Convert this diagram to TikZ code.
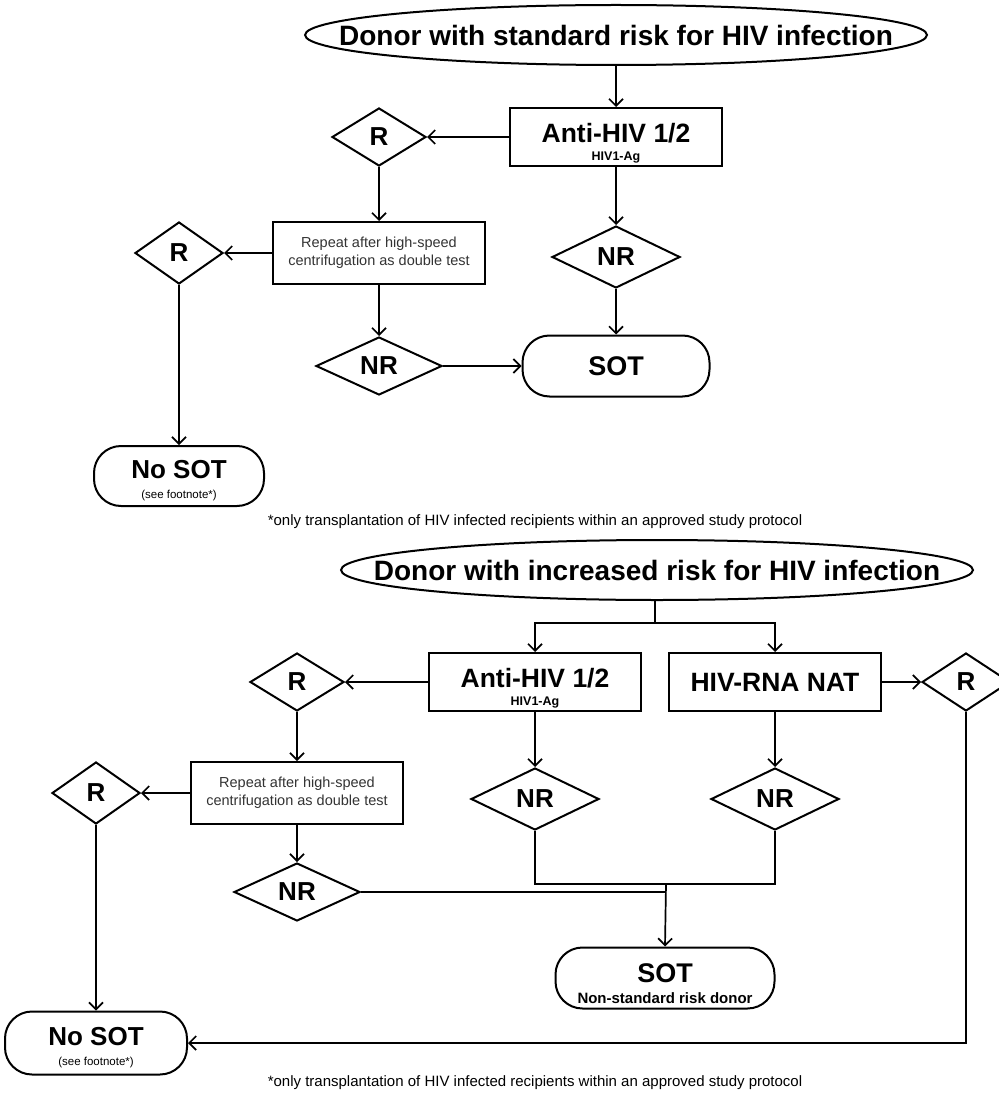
\documentclass[tikz,border=0pt]{standalone}
\usepackage{fontspec}
\setmainfont{Liberation Sans}
\usetikzlibrary{shapes.geometric,arrows.meta}

% invisible strut that lowers a stacked label inside its box
\newcommand\lowerby[1]{\rule{0pt}{#1}}

\begin{document}
\begin{tikzpicture}[x=1pt,y=-1pt,
  every node/.style={inner sep=0pt, align=center},
  link/.style={line width=1.7pt},
  flow/.style={link, -{Straight Barb[length=7pt,width=14pt,line width=1.7pt]}},
  ovaltext/.style={rectangle, minimum height=60pt, font=\fontsize{28}{30}\selectfont\bfseries},
  ovalline/.style={line width=2pt},
  testbox/.style={draw, rectangle, line width=2pt, minimum width=212pt, minimum height=58pt},
  repbox/.style={draw, rectangle, line width=2pt, minimum width=212pt, minimum height=62pt,
    font=\fontsize{14.5}{18}\selectfont, text=black!80},
  rdec/.style={draw, diamond, line width=2pt, minimum width=94pt, minimum height=58pt,
    font=\fontsize{26}{26}\selectfont\bfseries},
  nrdec/.style={draw, diamond, line width=2pt, minimum width=128pt, minimum height=62pt,
    font=\fontsize{26}{26}\selectfont\bfseries},
  term/.style={draw, rectangle, rounded corners=27pt, line width=2pt, minimum height=61pt},
  big/.style={font=\fontsize{26.5}{28}\selectfont\bfseries},
  note/.style={font=\fontsize{15}{17}\selectfont}
]
\useasboundingbox (0,0) rectangle (998,1099);

% ---------- standard risk donor ----------
\node[ovaltext] (top1) at (616,35) {Donor with standard risk for HIV infection};
\draw[ovalline] (top1.center) ellipse [x radius=311pt, y radius=30pt];
\node[testbox] (anti1) at (616,137)
  {{\fontsize{26.5}{26}\selectfont\bfseries\lowerby{32pt}Anti-HIV 1/2}\\[6pt]{\fontsize{12.5}{12}\selectfont\bfseries HIV1-Ag}};
\node[rdec] (r1) at (379,137) {R};
\node[repbox] (rep1) at (379,253) {Repeat after high-speed\\centrifugation as double test};
\node[rdec, minimum width=88pt, minimum height=62pt] (r2) at (179,253) {R};
\node[nrdec] (nr1) at (616,257) {NR};
\node[nrdec, minimum width=126pt, minimum height=58pt] (nr2) at (379,366) {NR};
\node[term, minimum width=187pt, font=\fontsize{27}{27}\selectfont\bfseries] (sot1) at (616,366) {SOT};
\node[term, minimum width=170pt, minimum height=60pt] (nosot1) at (179,476)
  {{\fontsize{26}{26}\selectfont\bfseries\lowerby{27pt}No SOT}\\[8pt]{\fontsize{11.5}{11}\selectfont (see footnote*)}};
\node[note] (fn1) at (535,522) {*only transplantation of HIV infected recipients within an approved study protocol};

\draw[flow] (top1.south) -- (anti1.north);
\draw[flow] (anti1.west) -- (r1.east);
\draw[flow] (r1.south) -- (rep1.north);
\draw[flow] (rep1.west) -- (r2.east);
\draw[flow] (r2.south) -- (nosot1.north);
\draw[flow] (rep1.south) -- (nr2.north);
\draw[flow] (anti1.south) -- (nr1.north);
\draw[flow] (nr1.south) -- (sot1.north);
\draw[flow] (nr2.east) -- (sot1.west);

% ---------- increased risk donor ----------
\node[ovaltext] (top2) at (657,570) {Donor with increased risk for HIV infection};
\draw[ovalline] (top2.center) ellipse [x radius=316pt, y radius=30pt];
\node[testbox] (anti2) at (535,682)
  {{\fontsize{26.5}{26}\selectfont\bfseries\lowerby{32pt}Anti-HIV 1/2}\\[6pt]{\fontsize{12.5}{12}\selectfont\bfseries HIV1-Ag}};
\node[testbox, big] (nat) at (775,682) {HIV-RNA NAT};
\node[rdec, minimum width=88pt] (r3) at (966,682) {R};
\node[rdec] (r4) at (297,682) {R};
\node[repbox] (rep2) at (297,793) {Repeat after high-speed\\centrifugation as double test};
\node[rdec, minimum width=88pt, minimum height=62pt] (r5) at (96,793) {R};
\node[nrdec] (nr4) at (535,799) {NR};
\node[nrdec] (nr5) at (775,799) {NR};
\node[nrdec, minimum width=126pt, minimum height=58pt] (nr3) at (297,892) {NR};
\node[term, minimum width=219pt] (sot2) at (665,978)
  {{\fontsize{27}{27}\selectfont\bfseries\lowerby{30pt}SOT}\\[9pt]{\fontsize{15}{15}\selectfont\bfseries Non-standard risk donor}};
\node[term, minimum width=182pt, minimum height=63pt] (nosot2) at (96,1043)
  {{\fontsize{26}{26}\selectfont\bfseries\lowerby{28pt}No SOT}\\[8pt]{\fontsize{11.5}{11}\selectfont (see footnote*)}};
\node[note] (fn2) at (535,1083) {*only transplantation of HIV infected recipients within an approved study protocol};

\coordinate (split) at (655,623);
\coordinate (join) at (666,884);

\draw[link] (top2.south -| split) -- (split);
\draw[flow] (split) -| (anti2.north);
\draw[flow] (split) -| (nat.north);
\draw[flow] (anti2.west) -- (r4.east);
\draw[flow] (nat.east) -- (r3.west);
\draw[flow] (r4.south) -- (rep2.north);
\draw[flow] (rep2.west) -- (r5.east);
\draw[flow] (r5.south) -- (nosot2.north);
\draw[flow] (rep2.south) -- (nr3.north);
\draw[flow] (anti2.south) -- (nr4.north);
\draw[flow] (nat.south) -- (nr5.north);
\draw[link] (nr4.south) |- (join);
\draw[link] (nr5.south) |- (join);
\draw[link] (nr3.east) -- (nr3.east -| join);
\draw[flow] (join) -- (sot2.north);
\draw[flow] (r3.south) |- (nosot2.east);
\end{tikzpicture}
\end{document}
